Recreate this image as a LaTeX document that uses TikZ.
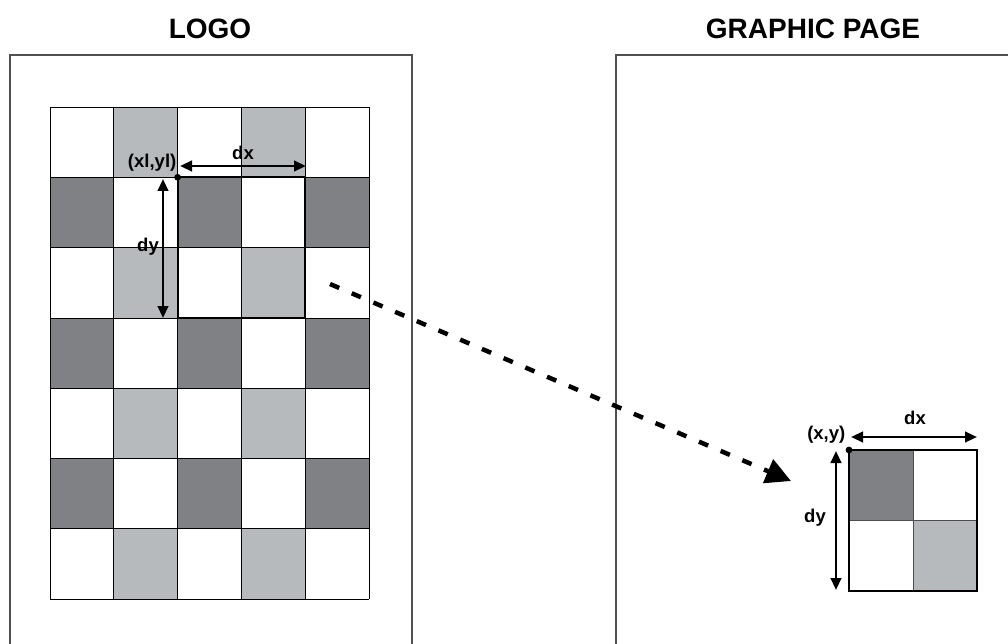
\documentclass[tikz,border=0pt]{standalone}
\usepackage{fontspec}
\setmainfont{Liberation Sans}
\usetikzlibrary{arrows.meta}
\definecolor{darkcell}{RGB}{128,129,133}
\definecolor{lightcell}{RGB}{183,186,189}
\definecolor{framegray}{RGB}{80,80,80}
\tikzset{
  title/.style={font=\fontsize{28}{30}\selectfont\bfseries, inner sep=0pt},
  lbl/.style={font=\fontsize{18.5}{20}\selectfont\bfseries, inner sep=0pt},
  frameline/.style={draw=framegray, line width=1.3pt},
  cellline/.style={draw=black, line width=0.8pt},
  dimarrow/.style={line width=2.5pt, {Triangle[length=12pt,width=10.5pt]}-{Triangle[length=12pt,width=10.5pt]}},
  bigdash/.style={line width=4.5pt, dash pattern=on 10pt off 13.6pt, -{Triangle[length=25pt,width=25pt]}},
}
\begin{document}
\begin{tikzpicture}[x=1pt,y=-1pt]
\useasboundingbox (0,0) rectangle (1008,644);
% titles
\node[title] (logo) at (210,29) {LOGO};
\node[title] (graphic) at (813,29) {GRAPHIC PAGE};
% frames
\draw[frameline] (10,660) -- (10,55) -- (412,55) -- (412,660);
\draw[frameline] (616,660) -- (616,55) -- (1020,55);
% logo grid
\foreach \r in {0,...,6}{
  \foreach \c in {0,...,4}{
    \pgfmathsetmacro{\xa}{50+63.8*\c}
    \pgfmathsetmacro{\ya}{107+70.3*\r}
    \pgfmathtruncatemacro{\re}{mod(\r,2)}
    \pgfmathtruncatemacro{\ce}{mod(\c,2)}
    \ifnum\re=0
      \ifnum\ce=1 \def\fc{lightcell}\else\def\fc{white}\fi
    \else
      \ifnum\ce=0 \def\fc{darkcell}\else\def\fc{white}\fi
    \fi
    \fill[\fc] (\xa,\ya) rectangle ++(63.8,70.3);
  }
}
\foreach \c in {0,...,5}{\draw[cellline] ({50+63.8*\c},107) -- ({50+63.8*\c},599.1);}
\foreach \r in {0,...,7}{\draw[cellline] (50,{107+70.3*\r}) -- (369,{107+70.3*\r});}
% highlighted region
\draw[line width=2.2pt] (177.6,177.3) rectangle (305.2,317.9);
\coordinate (xlyl) at (177.6,177.3);
\fill (xlyl) circle (3.4pt);
\coordinate (dxa) at (180,166);
\coordinate (dxb) at (306,166);
\draw[dimarrow] (dxa) -- (dxb);
\node[lbl] (dxl) at (243,153) {dx};
\coordinate (dya) at (163,179);
\coordinate (dyb) at (163,318);
\draw[dimarrow] (dya) -- (dyb);
\node[lbl] (dyl) at (148,247) {dy};
\node[lbl, anchor=east] (xylbl) at (176.5,163) {(xl,yl)};
% right small box
\fill[darkcell] (849,450) rectangle (913,520.5);
\fill[lightcell] (913,520.5) rectangle (977,591);
\draw[line width=0.8pt, draw=black!70] (913,450) -- (913,591) (849,520.5) -- (977,520.5);
\draw[line width=2.6pt] (849,450) rectangle (977,591);
\coordinate (xy) at (849,450);
\fill (xy) circle (3.4pt);
\coordinate (rdxa) at (851,437);
\coordinate (rdxb) at (977,437);
\draw[dimarrow] (rdxa) -- (rdxb);
\node[lbl] (rdxl) at (915,418) {dx};
\coordinate (rdya) at (836,451);
\coordinate (rdyb) at (836,590);
\draw[dimarrow] (rdya) -- (rdyb);
\node[lbl] (rdyl) at (815,518) {dy};
\node[lbl, anchor=east] (xylbl2) at (845.5,435) {(x,y)};
% dashed mapping arrow
\coordinate (ds) at (330,284);
\coordinate (de) at (791,481);
\draw[bigdash] (ds) -- (de);
\end{tikzpicture}
\end{document}
